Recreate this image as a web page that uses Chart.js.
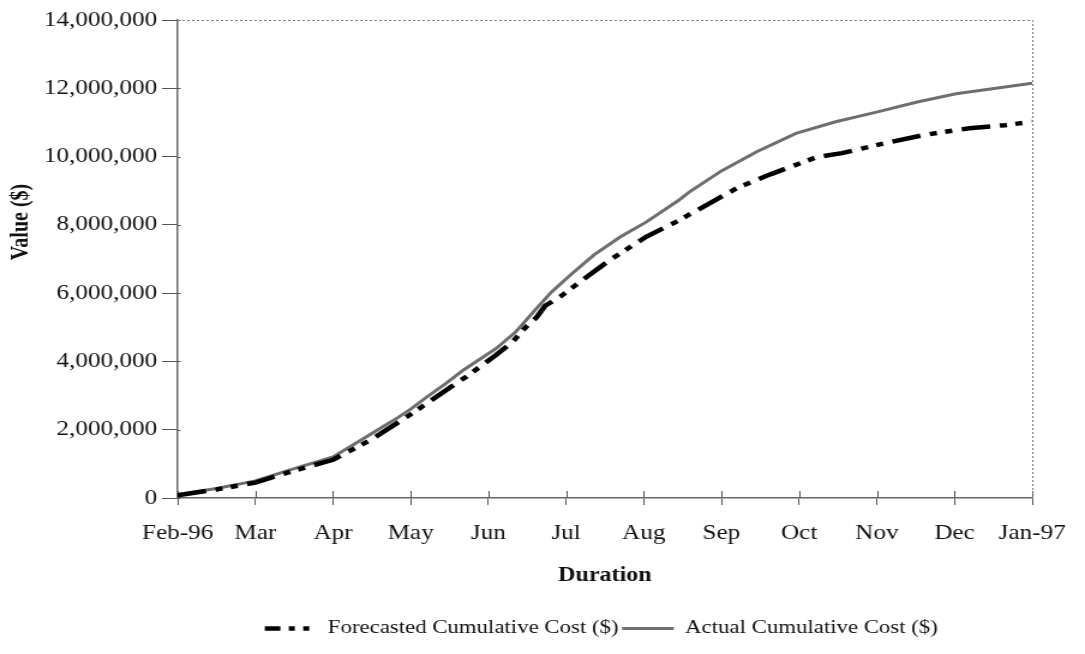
<!DOCTYPE html>
<html>
<head>
<meta charset="utf-8">
<script src="https://cdn.jsdelivr.net/npm/chart.js@4"></script>
<style>
  html, body { margin: 0; padding: 0; background: #fff; overflow: hidden; }
  /* the original picture is stretched sideways, so draw narrow and widen */
  #wrap { width: 904px; height: 654px; transform: scaleX(1.2002); transform-origin: 0 0; }
</style>
</head>
<body>
<div id="wrap"><canvas id="costChart" width="904" height="654"></canvas></div>
<script>
// month index 0 = Feb-96 ... 11 = Jan-97
const monthLabels = ['Feb-96', 'Mar', 'Apr', 'May', 'Jun', 'Jul', 'Aug', 'Sep', 'Oct', 'Nov', 'Dec', 'Jan-97'];
const yTickValues = [0, 2000000, 4000000, 6000000, 8000000, 10000000, 12000000, 14000000];

// values (position in months, dollars)
const forecastMonths = [0, 0.5, 1, 1.5, 2, 2.5, 3, 3.53, 3.72, 4.1, 4.31, 4.48, 4.62, 4.73, 4.94, 5.28, 5.57, 6.03, 6.41, 6.87, 7.21, 7.63, 8.22, 8.55, 9.1, 9.6, 10.19, 10.65, 11];
const forecastValues = [80000, 250000, 450000, 800000, 1120000, 1720000, 2450000, 3270000, 3560000, 4190000, 4570000, 5000000, 5290000, 5630000, 5920000, 6500000, 6980000, 7650000, 8080000, 8660000, 9090000, 9480000, 9980000, 10100000, 10390000, 10630000, 10830000, 10920000, 11020000];

const actualMonths = [0, 0.5, 1, 1.5, 2, 2.42, 2.63, 2.84, 3, 3.22, 3.45, 3.68, 4.1, 4.35, 4.6, 4.81, 5.07, 5.36, 5.7, 6.03, 6.45, 6.58, 7, 7.46, 7.96, 8.47, 9.01, 9.52, 10.02, 11];
const actualValues = [100000, 280000, 500000, 860000, 1200000, 1780000, 2070000, 2360000, 2600000, 2980000, 3350000, 3750000, 4380000, 4860000, 5500000, 6030000, 6560000, 7120000, 7650000, 8080000, 8720000, 8950000, 9580000, 10150000, 10680000, 11020000, 11310000, 11600000, 11840000, 12150000];

const toPoints = (xs, ys) => xs.map((x, i) => ({ x, y: ys[i] }));
const forecastDash = [24, 8, 6, 7, 6, 8];
const legendDash = [13, 7, 5, 7, 5, 7];
const serif = '"Liberation Serif", "Times New Roman", serif';

Chart.defaults.font.family = serif;
Chart.defaults.color = '#111';

const frame = {
  id: 'frame',
  beforeDatasetsDraw(chart) {
    const { ctx, chartArea: a, scales: { x, y } } = chart;
    ctx.save();
    // tick marks poke a little inside the axes
    ctx.strokeStyle = '#555';
    ctx.lineWidth = 1;
    y.ticks.forEach((t) => {
      const py = Math.round(y.getPixelForValue(t.value)) + 0.5;
      ctx.beginPath(); ctx.moveTo(a.left, py); ctx.lineTo(a.left + 2.5, py); ctx.stroke();
    });
    x.ticks.forEach((t) => {
      const px = Math.round(x.getPixelForValue(t.value)) + 0.5;
      ctx.beginPath(); ctx.moveTo(px, a.bottom); ctx.lineTo(px, a.bottom - 7); ctx.stroke();
    });
    // dotted top and right edge
    ctx.strokeStyle = '#777';
    ctx.setLineDash([2, 2]);
    ctx.beginPath();
    ctx.moveTo(a.left, a.top + 0.5);
    ctx.lineTo(a.right + 0.5, a.top + 0.5);
    ctx.lineTo(a.right + 0.5, a.bottom);
    ctx.stroke();
    ctx.restore();
  },
  afterDraw(chart) {
    // y title sits above the middle of the axis in the original
    const { ctx } = chart;
    ctx.save();
    ctx.translate(17.5, 222);
    ctx.rotate(-Math.PI / 2);
    ctx.font = 'bold 20px ' + serif;
    ctx.fillStyle = '#111';
    ctx.textAlign = 'center';
    ctx.textBaseline = 'middle';
    ctx.fillText('Value ($)', 0, 0);
    ctx.restore();
  },
  afterLayout(chart) {
    chart.legend.left += 63;
    chart.legend.right += 63;
  },
};

new Chart(document.getElementById('costChart'), {
  type: 'line',
  data: {
    datasets: [
      {
        label: 'Forecasted Cumulative Cost ($)',
        data: toPoints(forecastMonths, forecastValues),
        borderColor: '#000',
        borderWidth: 4.5,
        borderDash: forecastDash,
        pointRadius: 0,
        tension: 0,
      },
      {
        label: 'Actual Cumulative Cost ($)',
        data: toPoints(actualMonths, actualValues),
        borderColor: '#6e6e6e',
        borderWidth: 3,
        pointRadius: 0,
        tension: 0,
      },
      {
        label: 'inner',
        data: toPoints(actualMonths, actualValues),
        borderColor: '#c4c4c4',
        borderWidth: 1,
        pointRadius: 0,
        tension: 0,
      },
    ],
  },
  options: {
    responsive: false,
    animation: false,
    layout: { padding: { top: 20, right: 28, bottom: 6, left: 0 } },
    plugins: {
      tooltip: { enabled: false },
      legend: {
        position: 'bottom',
        labels: {
          usePointStyle: true,
          pointStyle: 'line',
          pointStyleWidth: 43,
          padding: 3,
          color: '#111',
          font: { size: 19 },
          filter: (item) => item.datasetIndex !== 2,
          generateLabels(chart) {
            const items = Chart.defaults.plugins.legend.labels.generateLabels(chart);
            items.forEach((it) => {
              if (it.datasetIndex === 0) it.lineDash = legendDash;
            });
            return items;
          },
        },
      },
    },
    scales: {
      x: {
        type: 'linear',
        min: 0,
        max: 11,
        afterBuildTicks: (scale) => { scale.ticks = monthLabels.map((_, i) => ({ value: i })); },
        afterFit: (scale) => { scale.height = 118; },
        ticks: {
          autoSkip: false,
          maxRotation: 0,
          padding: 16,
          font: { size: 21 },
          callback: (v) => monthLabels[v],
        },
        grid: { drawOnChartArea: false, tickLength: 7, color: '#555' },
        border: { color: '#666', width: 1.5 },
        title: {
          display: true,
          text: 'Duration',
          font: { size: 20, weight: 'bold' },
          padding: { top: 20, bottom: 28 },
        },
      },
      y: {
        min: 0,
        max: 14000000,
        afterBuildTicks: (scale) => { scale.ticks = yTickValues.map((v) => ({ value: v })); },
        afterFit: (scale) => { scale.width = 148; },
        ticks: {
          padding: 4,
          font: { size: 21 },
          callback: (v) => v.toLocaleString('en-US'),
        },
        grid: { drawOnChartArea: false, tickLength: 13, color: '#555' },
        border: { color: '#666', width: 1.5 },
        title: { display: false },
      },
    },
  },
  plugins: [frame],
});
</script>
</body>
</html>
